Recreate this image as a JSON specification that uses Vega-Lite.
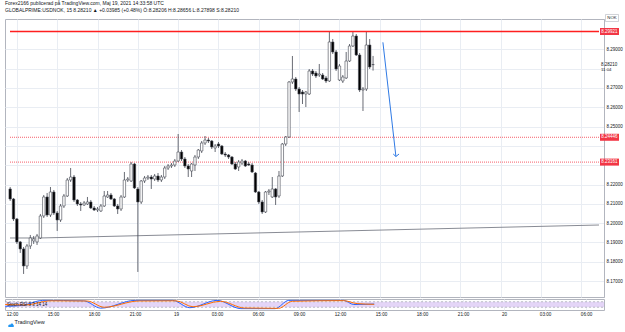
{
  "$schema": "https://vega.github.io/schema/vega-lite/v6.json",
  "background": "white",
  "padding": {"left": 3, "top": 1, "right": 2, "bottom": 2},
  "title": {
    "text": "Forex2166 publicerad på TradingView.com, Maj 19, 2021 14:33:58 UTC",
    "subtitle": "GLOBALPRIME:USDNOK, 15  8.28210 ▲ +0.03985 (+0.48%) Ö:8.28206 H:8.28656 L:8.27898 S:8.28210",
    "anchor": "start",
    "frame": "group",
    "font": "Liberation Sans",
    "fontSize": 5,
    "fontWeight": "normal",
    "color": "#131722",
    "subtitleFont": "Liberation Sans",
    "subtitleFontSize": 5,
    "subtitleColor": "#131722",
    "subtitlePadding": 2,
    "offset": 0.3
  },
  "config": {
    "view": {"stroke": "#b2b5be", "strokeWidth": 1},
    "axis": {"labelFont": "Liberation Sans", "titleFont": "Liberation Sans"},
    "text": {"font": "Liberation Sans"}
  },
  "datasets": {
    "candles": [
      {"t":"2021-05-18T11:30:00Z","o":8.21770,"h":8.21873,"l":8.21149,"c":8.21252},
      {"t":"2021-05-18T11:45:00Z","o":8.21252,"h":8.21304,"l":8.20114,"c":8.20218},
      {"t":"2021-05-18T12:00:00Z","o":8.20218,"h":8.20269,"l":8.18924,"c":8.19028},
      {"t":"2021-05-18T12:15:00Z","o":8.19028,"h":8.19079,"l":8.18459,"c":8.18666},
      {"t":"2021-05-18T12:30:00Z","o":8.18666,"h":8.18769,"l":8.17372,"c":8.17786},
      {"t":"2021-05-18T12:45:00Z","o":8.17786,"h":8.18924,"l":8.17631,"c":8.18821},
      {"t":"2021-05-18T13:00:00Z","o":8.18821,"h":8.19390,"l":8.18666,"c":8.19235},
      {"t":"2021-05-18T13:15:00Z","o":8.19079,"h":8.19338,"l":8.18924,"c":8.19183},
      {"t":"2021-05-18T13:30:00Z","o":8.19028,"h":8.19441,"l":8.18873,"c":8.19338},
      {"t":"2021-05-18T13:45:00Z","o":8.19235,"h":8.20476,"l":8.19183,"c":8.20373},
      {"t":"2021-05-18T14:00:00Z","o":8.20373,"h":8.21459,"l":8.20269,"c":8.21356},
      {"t":"2021-05-18T14:15:00Z","o":8.21356,"h":8.21563,"l":8.20321,"c":8.20424},
      {"t":"2021-05-18T14:30:00Z","o":8.20424,"h":8.21873,"l":8.20321,"c":8.21614},
      {"t":"2021-05-18T14:45:00Z","o":8.21614,"h":8.21718,"l":8.20424,"c":8.20528},
      {"t":"2021-05-18T15:00:00Z","o":8.20528,"h":8.20631,"l":8.19597,"c":8.20166},
      {"t":"2021-05-18T15:15:00Z","o":8.20166,"h":8.20994,"l":8.20062,"c":8.20890},
      {"t":"2021-05-18T15:30:00Z","o":8.20890,"h":8.21511,"l":8.20787,"c":8.21407},
      {"t":"2021-05-18T15:45:00Z","o":8.21407,"h":8.22339,"l":8.21356,"c":8.22235},
      {"t":"2021-05-18T16:00:00Z","o":8.22235,"h":8.22856,"l":8.22132,"c":8.22390},
      {"t":"2021-05-18T16:15:00Z","o":8.22390,"h":8.22494,"l":8.21097,"c":8.21200},
      {"t":"2021-05-18T16:30:00Z","o":8.21200,"h":8.21252,"l":8.20890,"c":8.20994},
      {"t":"2021-05-18T16:45:00Z","o":8.20994,"h":8.21097,"l":8.20631,"c":8.20942},
      {"t":"2021-05-18T17:00:00Z","o":8.20942,"h":8.21149,"l":8.20890,"c":8.21045},
      {"t":"2021-05-18T17:15:00Z","o":8.20994,"h":8.21356,"l":8.20942,"c":8.21097},
      {"t":"2021-05-18T17:30:00Z","o":8.21097,"h":8.21200,"l":8.20735,"c":8.20787},
      {"t":"2021-05-18T17:45:00Z","o":8.20787,"h":8.20890,"l":8.20631,"c":8.20683},
      {"t":"2021-05-18T18:00:00Z","o":8.20683,"h":8.20838,"l":8.20580,"c":8.20735},
      {"t":"2021-05-18T18:15:00Z","o":8.20631,"h":8.20994,"l":8.20580,"c":8.20890},
      {"t":"2021-05-18T18:30:00Z","o":8.20890,"h":8.21666,"l":8.20838,"c":8.21407},
      {"t":"2021-05-18T18:45:00Z","o":8.21356,"h":8.21666,"l":8.21304,"c":8.21459},
      {"t":"2021-05-18T19:00:00Z","o":8.21459,"h":8.21563,"l":8.21200,"c":8.21252},
      {"t":"2021-05-18T19:15:00Z","o":8.21252,"h":8.21304,"l":8.20838,"c":8.20890},
      {"t":"2021-05-18T19:30:00Z","o":8.20890,"h":8.20994,"l":8.20476,"c":8.20735},
      {"t":"2021-05-18T19:45:00Z","o":8.20735,"h":8.21459,"l":8.20631,"c":8.21356},
      {"t":"2021-05-18T20:00:00Z","o":8.21356,"h":8.22649,"l":8.21304,"c":8.22235},
      {"t":"2021-05-18T20:15:00Z","o":8.22235,"h":8.22390,"l":8.22132,"c":8.22287},
      {"t":"2021-05-18T20:30:00Z","o":8.22184,"h":8.23167,"l":8.22132,"c":8.23063},
      {"t":"2021-05-18T20:45:00Z","o":8.23063,"h":8.23115,"l":8.21770,"c":8.21821},
      {"t":"2021-05-18T21:00:00Z","o":8.21770,"h":8.21873,"l":8.17476,"c":8.21097},
      {"t":"2021-05-18T21:15:00Z","o":8.21097,"h":8.22235,"l":8.20994,"c":8.22184},
      {"t":"2021-05-18T21:30:00Z","o":8.22184,"h":8.22442,"l":8.22080,"c":8.22339},
      {"t":"2021-05-18T21:45:00Z","o":8.22339,"h":8.22494,"l":8.22235,"c":8.22390},
      {"t":"2021-05-18T22:00:00Z","o":8.22390,"h":8.22494,"l":8.21770,"c":8.22287},
      {"t":"2021-05-18T22:15:00Z","o":8.22287,"h":8.22546,"l":8.22184,"c":8.22442},
      {"t":"2021-05-18T22:30:00Z","o":8.22442,"h":8.22597,"l":8.22132,"c":8.22235},
      {"t":"2021-05-18T22:45:00Z","o":8.22235,"h":8.22494,"l":8.22132,"c":8.22390},
      {"t":"2021-05-18T23:00:00Z","o":8.22390,"h":8.22960,"l":8.22287,"c":8.22856},
      {"t":"2021-05-18T23:15:00Z","o":8.22856,"h":8.23063,"l":8.22753,"c":8.22960},
      {"t":"2021-05-18T23:30:00Z","o":8.22960,"h":8.23115,"l":8.22856,"c":8.23011},
      {"t":"2021-05-18T23:45:00Z","o":8.23011,"h":8.23322,"l":8.22908,"c":8.23218},
      {"t":"2021-05-19T00:00:00Z","o":8.23218,"h":8.24615,"l":8.23167,"c":8.23684},
      {"t":"2021-05-19T00:15:00Z","o":8.23684,"h":8.23787,"l":8.23218,"c":8.23322},
      {"t":"2021-05-19T00:30:00Z","o":8.23322,"h":8.23425,"l":8.22856,"c":8.22960},
      {"t":"2021-05-19T00:45:00Z","o":8.22960,"h":8.23063,"l":8.22390,"c":8.22804},
      {"t":"2021-05-19T01:00:00Z","o":8.22701,"h":8.23115,"l":8.22390,"c":8.23063},
      {"t":"2021-05-19T01:15:00Z","o":8.23011,"h":8.23529,"l":8.22701,"c":8.23425},
      {"t":"2021-05-19T01:30:00Z","o":8.23425,"h":8.23839,"l":8.23322,"c":8.23787},
      {"t":"2021-05-19T01:45:00Z","o":8.23736,"h":8.24253,"l":8.23632,"c":8.24150},
      {"t":"2021-05-19T02:00:00Z","o":8.24150,"h":8.24512,"l":8.24046,"c":8.24305},
      {"t":"2021-05-19T02:15:00Z","o":8.24305,"h":8.24409,"l":8.24150,"c":8.24253},
      {"t":"2021-05-19T02:30:00Z","o":8.24253,"h":8.24305,"l":8.23839,"c":8.23943},
      {"t":"2021-05-19T02:45:00Z","o":8.23891,"h":8.24098,"l":8.23684,"c":8.23994},
      {"t":"2021-05-19T03:00:00Z","o":8.24098,"h":8.24201,"l":8.23891,"c":8.23994},
      {"t":"2021-05-19T03:15:00Z","o":8.23994,"h":8.24046,"l":8.23529,"c":8.23580},
      {"t":"2021-05-19T03:30:00Z","o":8.23580,"h":8.23684,"l":8.23425,"c":8.23529},
      {"t":"2021-05-19T03:45:00Z","o":8.23529,"h":8.23580,"l":8.23322,"c":8.23425},
      {"t":"2021-05-19T04:00:00Z","o":8.23425,"h":8.23477,"l":8.23011,"c":8.23063},
      {"t":"2021-05-19T04:15:00Z","o":8.23063,"h":8.23167,"l":8.22753,"c":8.22804},
      {"t":"2021-05-19T04:30:00Z","o":8.22908,"h":8.23270,"l":8.22701,"c":8.23167},
      {"t":"2021-05-19T04:45:00Z","o":8.23115,"h":8.23322,"l":8.23011,"c":8.23218},
      {"t":"2021-05-19T05:00:00Z","o":8.23218,"h":8.23270,"l":8.22908,"c":8.22960},
      {"t":"2021-05-19T05:15:00Z","o":8.23063,"h":8.23167,"l":8.22960,"c":8.23011},
      {"t":"2021-05-19T05:30:00Z","o":8.23011,"h":8.23115,"l":8.22597,"c":8.22649},
      {"t":"2021-05-19T05:45:00Z","o":8.22597,"h":8.22649,"l":8.21563,"c":8.21614},
      {"t":"2021-05-19T06:00:00Z","o":8.21614,"h":8.21666,"l":8.20994,"c":8.21097},
      {"t":"2021-05-19T06:15:00Z","o":8.21097,"h":8.21200,"l":8.20476,"c":8.20580},
      {"t":"2021-05-19T06:30:00Z","o":8.20580,"h":8.21666,"l":8.20528,"c":8.21614},
      {"t":"2021-05-19T06:45:00Z","o":8.21614,"h":8.21770,"l":8.21459,"c":8.21666},
      {"t":"2021-05-19T07:00:00Z","o":8.21356,"h":8.22390,"l":8.21304,"c":8.21770},
      {"t":"2021-05-19T07:15:00Z","o":8.21770,"h":8.21821,"l":8.20942,"c":8.21356},
      {"t":"2021-05-19T07:30:00Z","o":8.21407,"h":8.22701,"l":8.21304,"c":8.22442},
      {"t":"2021-05-19T07:45:00Z","o":8.22442,"h":8.24150,"l":8.22390,"c":8.24098},
      {"t":"2021-05-19T08:00:00Z","o":8.24098,"h":8.24512,"l":8.23994,"c":8.24460},
      {"t":"2021-05-19T08:15:00Z","o":8.24460,"h":8.27359,"l":8.24409,"c":8.27307},
      {"t":"2021-05-19T08:30:00Z","o":8.27307,"h":8.28653,"l":8.27204,"c":8.27463},
      {"t":"2021-05-19T08:45:00Z","o":8.27463,"h":8.27566,"l":8.26841,"c":8.26945},
      {"t":"2021-05-19T09:00:00Z","o":8.26945,"h":8.27048,"l":8.25755,"c":8.26686},
      {"t":"2021-05-19T09:15:00Z","o":8.26790,"h":8.26893,"l":8.26168,"c":8.26686},
      {"t":"2021-05-19T09:30:00Z","o":8.26686,"h":8.26841,"l":8.26013,"c":8.26790},
      {"t":"2021-05-19T09:45:00Z","o":8.26686,"h":8.27980,"l":8.26634,"c":8.27877},
      {"t":"2021-05-19T10:00:00Z","o":8.27877,"h":8.27980,"l":8.27618,"c":8.27721},
      {"t":"2021-05-19T10:15:00Z","o":8.27773,"h":8.27877,"l":8.27514,"c":8.27618},
      {"t":"2021-05-19T10:30:00Z","o":8.27670,"h":8.28239,"l":8.27566,"c":8.27721},
      {"t":"2021-05-19T10:45:00Z","o":8.27670,"h":8.27773,"l":8.27411,"c":8.27463},
      {"t":"2021-05-19T11:00:00Z","o":8.27514,"h":8.27618,"l":8.27256,"c":8.27359},
      {"t":"2021-05-19T11:15:00Z","o":8.27359,"h":8.29895,"l":8.27307,"c":8.29378},
      {"t":"2021-05-19T11:30:00Z","o":8.29378,"h":8.29533,"l":8.28756,"c":8.28860},
      {"t":"2021-05-19T11:45:00Z","o":8.28860,"h":8.28963,"l":8.27877,"c":8.27980},
      {"t":"2021-05-19T12:00:00Z","o":8.27411,"h":8.28239,"l":8.27359,"c":8.28135},
      {"t":"2021-05-19T12:15:00Z","o":8.27359,"h":8.27670,"l":8.27256,"c":8.27566},
      {"t":"2021-05-19T12:30:00Z","o":8.27514,"h":8.28860,"l":8.27463,"c":8.28394},
      {"t":"2021-05-19T12:45:00Z","o":8.28394,"h":8.29274,"l":8.28342,"c":8.29171},
      {"t":"2021-05-19T13:00:00Z","o":8.29171,"h":8.29900,"l":8.29119,"c":8.29688},
      {"t":"2021-05-19T13:15:00Z","o":8.29688,"h":8.29792,"l":8.28653,"c":8.28705},
      {"t":"2021-05-19T13:30:00Z","o":8.28705,"h":8.28808,"l":8.26790,"c":8.26893},
      {"t":"2021-05-19T13:45:00Z","o":8.26893,"h":8.27048,"l":8.25806,"c":8.26945},
      {"t":"2021-05-19T14:00:00Z","o":8.26945,"h":8.29921,"l":8.26841,"c":8.29222},
      {"t":"2021-05-19T14:15:00Z","o":8.29222,"h":8.29533,"l":8.27980,"c":8.28084},
      {"t":"2021-05-19T14:30:00Z","o":8.28206,"h":8.28656,"l":8.27898,"c":8.28210}
    ],
    "topLevel": [
      {"t":"2021-05-18T11:29:18Z","p":8.29921},
      {"t":"2021-05-20T07:18:36Z","p":8.29921}
    ],
    "zones": [
      {"t":"2021-05-18T11:29:18Z","p":8.24446,"g":"upper"},
      {"t":"2021-05-20T07:18:36Z","p":8.24446,"g":"upper"},
      {"t":"2021-05-18T11:29:18Z","p":8.23161,"g":"lower"},
      {"t":"2021-05-20T07:18:36Z","p":8.23161,"g":"lower"}
    ],
    "trend": [
      {"t":"2021-05-18T11:29:18Z","p":8.19233},
      {"t":"2021-05-18T13:41:00Z","p":8.19233},
      {"t":"2021-05-20T07:18:36Z","p":8.19905}
    ],
    "arrow": [
      {"t":"2021-05-19T15:14:00Z","p":8.29362,"seg":"shaft"},
      {"t":"2021-05-19T16:12:00Z","p":8.23451,"seg":"shaft"},
      {"t":"2021-05-19T16:00:00Z","p":8.23580,"seg":"left"},
      {"t":"2021-05-19T16:12:00Z","p":8.23451,"seg":"left"},
      {"t":"2021-05-19T16:12:00Z","p":8.23451,"seg":"right"},
      {"t":"2021-05-19T16:26:00Z","p":8.23580,"seg":"right"}
    ],
    "tags": [
      {"t":"2021-05-20T07:18:36Z","p":8.29921,"lab":"8.29921"},
      {"t":"2021-05-20T07:18:36Z","p":8.24446,"lab":"8.24446"},
      {"t":"2021-05-20T07:18:36Z","p":8.23161,"lab":"8.23161"}
    ],
    "lastPrice": [
      {"t":"2021-05-20T07:18:36Z","p":8.28210,"lab":"8.28210","timer":"11:04"}
    ],
    "currency": [
      {"t":"2021-05-20T07:18:36Z","p":8.30620,"lab":"NOK"}
    ],
    "stochBand": [
      {"t":"2021-05-18T11:29:18Z","hi":80,"lo":20},
      {"t":"2021-05-20T07:18:36Z","hi":80,"lo":20}
    ],
    "stochGuides": [
      {"t":"2021-05-18T11:29:18Z","v":80,"g":"upper"},
      {"t":"2021-05-20T07:18:36Z","v":80,"g":"upper"},
      {"t":"2021-05-18T11:29:18Z","v":20,"g":"lower"},
      {"t":"2021-05-20T07:18:36Z","v":20,"g":"lower"}
    ],
    "stoch": [
      {"t":"2021-05-18T11:30:00Z","v":30,"s":"K"},
      {"t":"2021-05-18T12:45:00Z","v":40,"s":"K"},
      {"t":"2021-05-18T14:15:00Z","v":95,"s":"K"},
      {"t":"2021-05-18T17:15:00Z","v":90,"s":"K"},
      {"t":"2021-05-18T18:30:00Z","v":10,"s":"K"},
      {"t":"2021-05-18T21:00:00Z","v":95,"s":"K"},
      {"t":"2021-05-18T23:45:00Z","v":95,"s":"K"},
      {"t":"2021-05-19T01:00:00Z","v":15,"s":"K"},
      {"t":"2021-05-19T03:00:00Z","v":95,"s":"K"},
      {"t":"2021-05-19T04:45:00Z","v":5,"s":"K"},
      {"t":"2021-05-19T07:15:00Z","v":5,"s":"K"},
      {"t":"2021-05-19T08:15:00Z","v":95,"s":"K"},
      {"t":"2021-05-19T12:15:00Z","v":95,"s":"K"},
      {"t":"2021-05-19T13:00:00Z","v":50,"s":"K"},
      {"t":"2021-05-19T14:30:00Z","v":55,"s":"K"},
      {"t":"2021-05-18T11:30:00Z","v":50,"s":"D"},
      {"t":"2021-05-18T13:00:00Z","v":45,"s":"D"},
      {"t":"2021-05-18T14:45:00Z","v":90,"s":"D"},
      {"t":"2021-05-18T17:30:00Z","v":88,"s":"D"},
      {"t":"2021-05-18T18:45:00Z","v":20,"s":"D"},
      {"t":"2021-05-18T21:15:00Z","v":88,"s":"D"},
      {"t":"2021-05-19T00:00:00Z","v":90,"s":"D"},
      {"t":"2021-05-19T01:15:00Z","v":25,"s":"D"},
      {"t":"2021-05-19T03:15:00Z","v":85,"s":"D"},
      {"t":"2021-05-19T05:00:00Z","v":12,"s":"D"},
      {"t":"2021-05-19T07:30:00Z","v":8,"s":"D"},
      {"t":"2021-05-19T08:30:00Z","v":85,"s":"D"},
      {"t":"2021-05-19T12:15:00Z","v":92,"s":"D"},
      {"t":"2021-05-19T13:15:00Z","v":60,"s":"D"},
      {"t":"2021-05-19T14:30:00Z","v":52,"s":"D"}
    ],
    "stochLabel": [
      {"t":"2021-05-18T11:29:18Z","v":50,"lab":"Stoch RSI 3 3 14 14"}
    ],
    "logo": [
      {"t":"2021-05-18T11:29:18Z","v":-10}
    ]
  },
  "spacing": 0,
  "resolve": {"scale": {"x": "independent", "y": "independent"}},
  "vconcat": [
    {
      "width": 599,
      "height": 278,
      "encoding": {
        "x": {
          "field": "t",
          "type": "temporal",
          "scale": {
            "type": "utc",
            "domain": [
              {"year":2021,"month":5,"date":18,"hours":11,"minutes":29,"seconds":18,"utc":true},
              {"year":2021,"month":5,"date":20,"hours":7,"minutes":18,"seconds":36,"utc":true}
            ]
          },
          "axis": {
            "orient": "bottom",
            "values": [
              {"year":2021,"month":5,"date":18,"hours":12,"utc":true},
              {"year":2021,"month":5,"date":18,"hours":15,"utc":true},
              {"year":2021,"month":5,"date":18,"hours":18,"utc":true},
              {"year":2021,"month":5,"date":18,"hours":21,"utc":true},
              {"year":2021,"month":5,"date":19,"hours":0,"utc":true},
              {"year":2021,"month":5,"date":19,"hours":3,"utc":true},
              {"year":2021,"month":5,"date":19,"hours":6,"utc":true},
              {"year":2021,"month":5,"date":19,"hours":9,"utc":true},
              {"year":2021,"month":5,"date":19,"hours":12,"utc":true},
              {"year":2021,"month":5,"date":19,"hours":15,"utc":true},
              {"year":2021,"month":5,"date":19,"hours":18,"utc":true},
              {"year":2021,"month":5,"date":19,"hours":21,"utc":true},
              {"year":2021,"month":5,"date":20,"hours":0,"utc":true},
              {"year":2021,"month":5,"date":20,"hours":3,"utc":true},
              {"year":2021,"month":5,"date":20,"hours":6,"utc":true}
            ],
            "grid": true,
            "gridColor": "#e9edf3",
            "gridWidth": 1,
            "labels": false,
            "ticks": false,
            "domain": false,
            "title": null
          }
        },
        "y": {
          "field": "p",
          "type": "quantitative",
          "scale": {"domain": [8.16179, 8.30568], "zero": false, "nice": false},
          "axis": {
            "orient": "right",
            "title": null,
            "values": [8.17, 8.18, 8.19, 8.2, 8.21, 8.22, 8.23, 8.24, 8.25, 8.26, 8.27, 8.28, 8.29],
            "labelExpr": "(abs(datum.value - 8.23) < 0.0005 || abs(datum.value - 8.24) < 0.0005 || abs(datum.value - 8.28) < 0.0005) ? '' : format(datum.value, '.5f')",
            "grid": true,
            "gridColor": "#e9edf3",
            "gridWidth": 1,
            "ticks": false,
            "domain": true,
            "domainColor": "#b2b5be",
            "labelFontSize": 4.5,
            "labelColor": "#131722",
            "labelPadding": 2,
            "labelAlign": "left",
            "labelBound": false
          }
        }
      },
      "layer": [
        {
          "data": {"name": "zones"},
          "mark": {"type": "line", "color": "#f23645", "stroke": "#f23645", "strokeWidth": 1, "strokeDash": [1, 1], "strokeOpacity": 0.8},
          "encoding": {"detail": {"field": "g"}}
        },
        {
          "data": {"name": "trend"},
          "mark": {"type": "line", "color": "#7b7e88", "stroke": "#7b7e88", "strokeWidth": 0.9}
        },
        {
          "data": {"name": "candles"},
          "mark": {"type": "rule", "color": "#434651", "strokeWidth": 0.8, "clip": true},
          "encoding": {
            "y": {
              "field": "l",
              "type": "quantitative",
              "scale": {"domain": [8.16179, 8.30568], "zero": false, "nice": false},
              "axis": {
                "orient": "right",
                "title": null,
                "values": [8.17, 8.18, 8.19, 8.2, 8.21, 8.22, 8.23, 8.24, 8.25, 8.26, 8.27, 8.28, 8.29],
                "labelExpr": "(abs(datum.value - 8.23) < 0.0005 || abs(datum.value - 8.24) < 0.0005 || abs(datum.value - 8.28) < 0.0005) ? '' : format(datum.value, '.5f')",
                "grid": true,
                "gridColor": "#e9edf3",
                "gridWidth": 1,
                "ticks": false,
                "domain": true,
                "domainColor": "#b2b5be",
                "labelFontSize": 4.5,
                "labelColor": "#131722",
                "labelPadding": 2,
                "labelAlign": "left",
                "labelBound": false
              }
            },
            "y2": {"field": "h"}
          }
        },
        {
          "data": {"name": "candles"},
          "mark": {"type": "bar", "width": 2.4, "stroke": "#434651", "strokeWidth": 0.6, "clip": true},
          "encoding": {
            "y": {
              "field": "o",
              "type": "quantitative",
              "scale": {"domain": [8.16179, 8.30568], "zero": false, "nice": false},
              "axis": {
                "orient": "right",
                "title": null,
                "values": [8.17, 8.18, 8.19, 8.2, 8.21, 8.22, 8.23, 8.24, 8.25, 8.26, 8.27, 8.28, 8.29],
                "labelExpr": "(abs(datum.value - 8.23) < 0.0005 || abs(datum.value - 8.24) < 0.0005 || abs(datum.value - 8.28) < 0.0005) ? '' : format(datum.value, '.5f')",
                "grid": true,
                "gridColor": "#e9edf3",
                "gridWidth": 1,
                "ticks": false,
                "domain": true,
                "domainColor": "#b2b5be",
                "labelFontSize": 4.5,
                "labelColor": "#131722",
                "labelPadding": 2,
                "labelAlign": "left",
                "labelBound": false
              }
            },
            "y2": {"field": "c"},
            "fill": {"condition": {"test": "datum.c >= datum.o", "value": "#ffffff"}, "value": "#000000"}
          }
        },
        {
          "data": {"name": "topLevel"},
          "mark": {"type": "line", "color": "#ff1f1f", "stroke": "#ff1f1f", "strokeWidth": 1.4, "strokeOpacity": 1}
        },
        {
          "data": {"name": "arrow"},
          "mark": {"type": "line", "color": "#2f7ae5", "stroke": "#2f7ae5", "strokeWidth": 1},
          "encoding": {"detail": {"field": "seg"}}
        },
        {
          "data": {"name": "tags"},
          "mark": {"type": "tick", "orient": "vertical", "thickness": 19, "size": 7, "xOffset": 10.5, "color": "#f23645", "opacity": 1, "clip": false}
        },
        {
          "data": {"name": "tags"},
          "mark": {"type": "text", "dx": 10.5, "fontSize": 4.5, "color": "#ffffff", "align": "center", "baseline": "middle", "clip": false},
          "encoding": {"text": {"field": "lab"}}
        },
        {
          "data": {"name": "lastPrice"},
          "mark": {"type": "text", "dx": 2, "fontSize": 4.5, "color": "#131722", "align": "left", "baseline": "middle", "clip": false},
          "encoding": {"text": {"field": "lab"}}
        },
        {
          "data": {"name": "lastPrice"},
          "mark": {"type": "text", "dx": 2, "dy": 5, "fontSize": 4.3, "color": "#131722", "align": "left", "baseline": "middle", "clip": false},
          "encoding": {"text": {"field": "timer"}}
        },
        {
          "data": {"name": "currency"},
          "mark": {"type": "tick", "orient": "vertical", "thickness": 13, "size": 7, "xOffset": 13, "fill": "#ffffff", "stroke": "#b2b5be", "strokeWidth": 0.6, "opacity": 1, "clip": false}
        },
        {
          "data": {"name": "currency"},
          "mark": {"type": "text", "dx": 13, "fontSize": 4.3, "color": "#131722", "align": "center", "baseline": "middle", "clip": false},
          "encoding": {"text": {"field": "lab"}}
        }
      ]
    },
    {
      "width": 599,
      "height": 11,
      "encoding": {
        "x": {
          "field": "t",
          "type": "temporal",
          "scale": {
            "type": "utc",
            "domain": [
              {"year":2021,"month":5,"date":18,"hours":11,"minutes":29,"seconds":18,"utc":true},
              {"year":2021,"month":5,"date":20,"hours":7,"minutes":18,"seconds":36,"utc":true}
            ]
          },
          "axis": {
            "orient": "bottom",
            "values": [
              {"year":2021,"month":5,"date":18,"hours":12,"utc":true},
              {"year":2021,"month":5,"date":18,"hours":15,"utc":true},
              {"year":2021,"month":5,"date":18,"hours":18,"utc":true},
              {"year":2021,"month":5,"date":18,"hours":21,"utc":true},
              {"year":2021,"month":5,"date":19,"hours":0,"utc":true},
              {"year":2021,"month":5,"date":19,"hours":3,"utc":true},
              {"year":2021,"month":5,"date":19,"hours":6,"utc":true},
              {"year":2021,"month":5,"date":19,"hours":9,"utc":true},
              {"year":2021,"month":5,"date":19,"hours":12,"utc":true},
              {"year":2021,"month":5,"date":19,"hours":15,"utc":true},
              {"year":2021,"month":5,"date":19,"hours":18,"utc":true},
              {"year":2021,"month":5,"date":19,"hours":21,"utc":true},
              {"year":2021,"month":5,"date":20,"hours":0,"utc":true},
              {"year":2021,"month":5,"date":20,"hours":3,"utc":true},
              {"year":2021,"month":5,"date":20,"hours":6,"utc":true}
            ],
            "labelExpr": "utchours(datum.value) == 0 ? utcFormat(datum.value, '%d') : utcFormat(datum.value, '%H:%M')",
            "grid": true,
            "gridColor": "#e9edf3",
            "gridWidth": 1,
            "ticks": false,
            "domain": false,
            "labelFontSize": 4.6,
            "labelColor": "#131722",
            "labelPadding": 1,
            "title": "TradingView",
            "titleAnchor": "start",
            "titleAlign": "left",
            "titleX": 9,
            "titleFontSize": 5.5,
            "titleFontWeight": "normal",
            "titleColor": "#131722",
            "titlePadding": 4
          }
        }
      },
      "layer": [
        {
          "data": {"name": "stochBand"},
          "mark": {"type": "area", "color": "#e4d5f7", "opacity": 1},
          "encoding": {
            "y": {"field": "hi", "type": "quantitative", "scale": {"domain": [-10, 110], "zero": false, "nice": false}, "axis": null},
            "y2": {"field": "lo"}
          }
        },
        {
          "data": {"name": "stochGuides"},
          "mark": {"type": "line", "stroke": "#9598a1", "strokeWidth": 0.6, "strokeDash": [2, 2]},
          "encoding": {
            "y": {"field": "v", "type": "quantitative", "scale": {"domain": [-10, 110], "zero": false, "nice": false}, "axis": null},
            "detail": {"field": "g"}
          }
        },
        {
          "data": {"name": "stoch"},
          "mark": {"type": "line", "strokeWidth": 1, "interpolate": "monotone", "clip": true},
          "encoding": {
            "y": {"field": "v", "type": "quantitative", "scale": {"domain": [-10, 110], "zero": false, "nice": false}, "axis": null},
            "color": {"field": "s", "type": "nominal", "scale": {"domain": ["K", "D"], "range": ["#2962ff", "#ff6d00"]}, "legend": null}
          }
        },
        {
          "data": {"name": "stochLabel"},
          "mark": {"type": "text", "align": "left", "baseline": "middle", "dx": 2, "fontSize": 4.5, "color": "#131722"},
          "encoding": {
            "y": {"field": "v", "type": "quantitative", "scale": {"domain": [-10, 110], "zero": false, "nice": false}, "axis": null},
            "text": {"field": "lab"}
          }
        },
        {
          "data": {"name": "logo"},
          "mark": {
            "type": "point",
            "shape": "M-1,0.35 C-1.1,-0.2 -0.6,-0.5 -0.25,-0.3 C-0.05,-0.85 0.75,-0.85 0.85,-0.15 C1.2,-0.05 1.15,0.55 0.8,0.55 L-0.7,0.55 C-0.9,0.55 -1,0.45 -1,0.35 Z",
            "filled": true,
            "color": "#2196f3",
            "opacity": 1,
            "size": 30,
            "xOffset": 6,
            "yOffset": 15.5,
            "clip": false
          },
          "encoding": {
            "y": {"field": "v", "type": "quantitative", "scale": {"domain": [-10, 110], "zero": false, "nice": false}, "axis": null}
          }
        }
      ]
    }
  ]
}
